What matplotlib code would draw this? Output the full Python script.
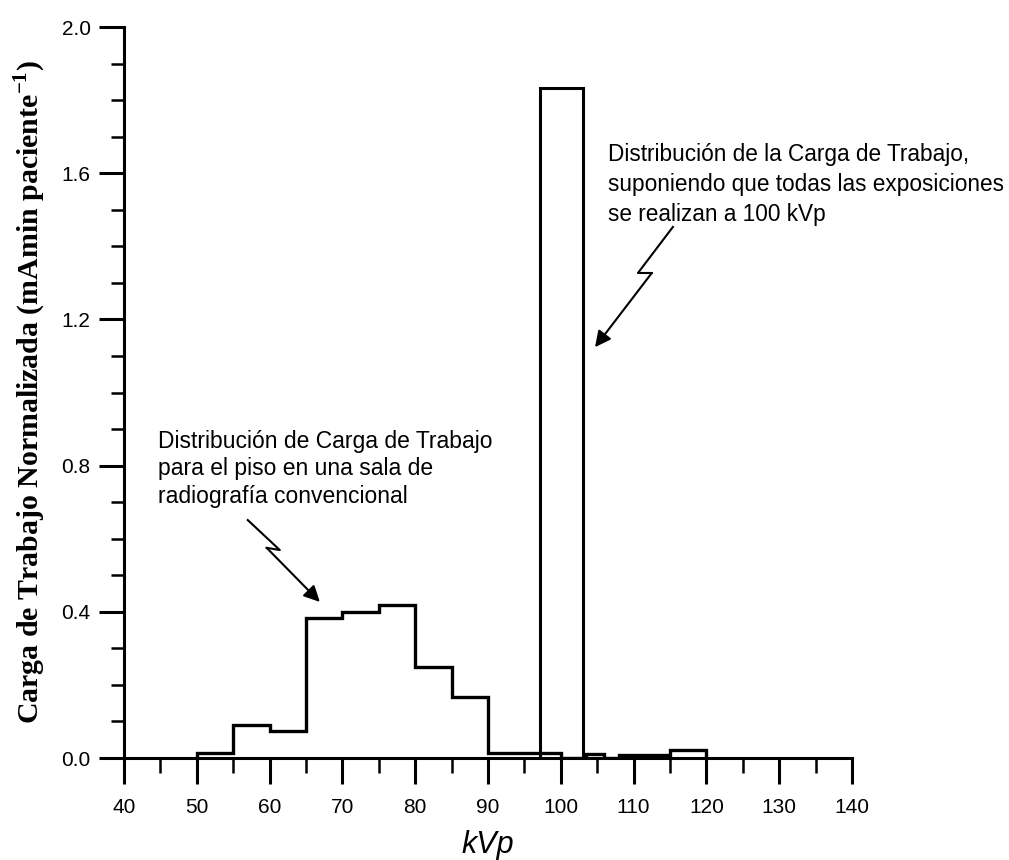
import numpy as np
import matplotlib
matplotlib.use("Agg")
import matplotlib.pyplot as plt
from matplotlib.ticker import MultipleLocator

plt.rcParams["font.family"] = ["Liberation Sans", "DejaVu Sans"]
plt.rcParams["mathtext.fontset"] = "custom"
plt.rcParams["mathtext.rm"] = "Liberation Serif:bold"
plt.rcParams["mathtext.bf"] = "Liberation Serif:bold"

# workload distribution (step histogram), bin edges in kVp
bin_edges = [50, 55, 60, 65, 70, 75, 80, 85, 90, 100, 103.5, 106, 108, 115, 120]
workload = [0.013, 0.090, 0.073, 0.383, 0.400, 0.418, 0.249, 0.167, 0.014,
            0.0, 0.010, 0.0, 0.007, 0.021]

# single-kVp distribution (all exposures at 100 kVp)
bar_left, bar_right = 97.2, 103.0
bar_height = 1.833

note_conv = "Distribución de Carga de Trabajo\npara el piso en una sala de\nradiografía convencional"
note_100 = "Distribución de la Carga de Trabajo,\nsuponiendo que todas las exposiciones\nse realizan a 100 kVp"

fig = plt.figure(figsize=(10.09, 8.6), dpi=100)
ax = fig.add_axes([0.1229, 0.1186, 0.7215, 0.8500])

# tall bar (open rectangle)
ax.plot([bar_left, bar_left, bar_right, bar_right],
        [0, bar_height, bar_height, 0], color="k", lw=2.2, solid_joinstyle="miter")

# step outline of the histogram
xs = [bin_edges[0]]
ys = [0.0]
for i, v in enumerate(workload):
    xs += [bin_edges[i], bin_edges[i + 1]]
    ys += [v, v]
xs.append(bin_edges[-1])
ys.append(0.0)
ax.plot(xs, ys, color="k", lw=2.4, solid_joinstyle="miter")

ax.set_xlim(40, 140)
ax.set_ylim(0, 2.0)
ax.spines["top"].set_visible(False)
ax.spines["right"].set_visible(False)
for s in ("left", "bottom"):
    ax.spines[s].set_linewidth(2.2)

ax.xaxis.set_major_locator(MultipleLocator(10))
ax.xaxis.set_minor_locator(MultipleLocator(5))
ax.yaxis.set_major_locator(MultipleLocator(0.4))
ax.yaxis.set_minor_locator(MultipleLocator(0.1))
ax.yaxis.set_major_formatter(matplotlib.ticker.FormatStrFormatter("%.1f"))

ax.tick_params(axis="x", which="major", direction="out", length=19, width=2.2,
               labelsize=15, pad=10)
ax.tick_params(axis="x", which="minor", direction="out", length=11, width=1.8)
ax.tick_params(axis="y", which="major", direction="out", length=18, width=2.2,
               labelsize=15, pad=6)
ax.tick_params(axis="y", which="minor", direction="out", length=9.5, width=1.8)

ax.set_xlabel("kVp", fontsize=22, style="italic", labelpad=9)
ax.set_ylabel(r"Carga de Trabajo Normalizada (mAmin paciente$^{\mathbf{-1}}$)",
              family="Liberation Serif", fontweight="bold", fontsize=21.5, labelpad=10)

# annotations with zigzag arrows
ax.text(44.7, 0.897, note_conv, fontsize=16.5, va="top", ha="left", linespacing=1.24)
ax.plot([57.0, 61.4, 59.6], [0.651, 0.569, 0.575], color="k", lw=1.5)
ax.annotate("", xy=(66.9, 0.427), xytext=(59.6, 0.575),
            arrowprops=dict(arrowstyle="-|>", color="k", lw=1.5, mutation_scale=24,
                            shrinkA=0, shrinkB=0))

ax.text(106.5, 1.683, note_100, fontsize=16.3, va="top", ha="left", linespacing=1.40)
ax.plot([115.4, 110.6, 112.5], [1.453, 1.327, 1.327], color="k", lw=1.5)
ax.annotate("", xy=(104.7, 1.124), xytext=(112.5, 1.327),
            arrowprops=dict(arrowstyle="-|>", color="k", lw=1.5, mutation_scale=24,
                            shrinkA=0, shrinkB=0))

fig.savefig("out.png", dpi=100)
